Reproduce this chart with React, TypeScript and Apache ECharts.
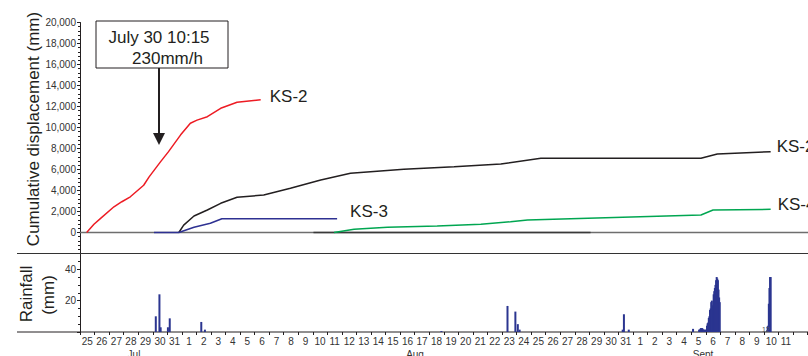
import React, { useEffect, useRef } from "react";
import * as echarts from "echarts";

// ---- axis labels ----
const julDays = ["25", "26", "27", "28", "29", "30", "31"];
const augDays = ["1", "2", "3", "4", "5", "6", "7", "8", "9", "10", "11", "12", "13", "14", "15", "16", "17", "18", "19", "20", "21", "22", "23", "24", "25", "26", "27", "28", "29", "30", "31"];
const sepDays = ["1", "2", "3", "4", "5", "6", "7", "8", "9", "10", "11"];
const trailingDays = ["", "", ""];
const monthNames = ["Jul", "Aug", "Sept"];
const monthLabelTimes = ["07-28 17:00", "08-17 00:30", "09-05 19:30"];

// ---- cumulative displacement (mm) ----
const ks2Red: [string, number][] = [
  ["07-25 11:00", 0], ["07-25 23:00", 780], ["07-26 10:00", 1350], ["07-27 08:00", 2450],
  ["07-27 21:00", 2930], ["07-28 11:00", 3400], ["07-29 09:00", 4500], ["07-29 18:00", 5300],
  ["07-30 13:00", 6750], ["07-31 02:00", 7700], ["07-31 22:00", 9300], ["08-01 14:00", 10400],
  ["08-02 01:00", 10700], ["08-02 18:00", 11030], ["08-03 16:00", 11830], ["08-04 19:00", 12400],
  ["08-06 10:00", 12650],
];
const ks2Black: [string, number][] = [
  ["07-31 19:00", 0], ["08-01 03:00", 700], ["08-01 20:00", 1570], ["08-02 18:00", 2140],
  ["08-03 16:00", 2780], ["08-04 19:00", 3350], ["08-06 15:00", 3570], ["08-08 11:00", 4210],
  ["08-10 13:00", 5000], ["08-12 14:00", 5640], ["08-16 06:00", 6020], ["08-19 17:00", 6270],
  ["08-22 22:00", 6520], ["08-25 16:00", 7070], ["09-05 16:00", 7070], ["09-06 19:00", 7480],
  ["09-10 11:00", 7700],
];
const ks3: [string, number][] = [
  ["07-30 02:00", 0], ["07-31 19:00", 0], ["08-01 20:00", 500], ["08-02 23:00", 880],
  ["08-03 18:00", 1310], ["08-07 12:00", 1320], ["08-11 16:00", 1310],
];
const ks4: [string, number][] = [
  ["08-11 11:00", 0], ["08-12 20:00", 300], ["08-15 03:00", 500], ["08-18 13:00", 620],
  ["08-21 13:00", 780], ["08-23 14:00", 1030], ["08-24 18:00", 1190], ["08-27 17:00", 1310],
  ["09-05 16:00", 1670], ["09-06 12:00", 2140], ["09-10 11:00", 2210],
];
const zeroTrace: [string, number][] = [["08-10 01:00", 0], ["08-29 02:00", 0]];

// ---- hourly rainfall (mm) ----
const rainfall: [string, number][] = [
  ["07-30 05:00", 10], ["07-30 11:00", 24], ["07-30 13:00", 3],
  ["07-31 01:00", 3], ["07-31 04:00", 8.7],
  ["08-02 08:00", 6.4], ["08-02 14:00", 1.5],
  ["08-18 20:00", 0.6],
  ["08-23 09:00", 16.6], ["08-23 22:00", 13], ["08-24 02:00", 5], ["08-24 05:00", 1.5],
  ["08-31 07:00", 1.5], ["08-31 09:00", 11.3], ["08-31 17:00", 1.5],
  ["09-05 03:00", 2], ["09-05 13:00", 1.5],
  ["09-05 15:00", 2], ["09-05 16:00", 2.5], ["09-05 17:00", 2], ["09-05 18:00", 2.5],
  ["09-05 19:00", 2], ["09-05 20:00", 1], ["09-05 21:00", 1.5], ["09-05 22:00", 1],
  ["09-05 23:00", 1.5], ["09-06 00:00", 1], ["09-06 01:00", 1.5], ["09-06 02:00", 4],
  ["09-06 03:00", 5.5], ["09-06 04:00", 6], ["09-06 05:00", 9], ["09-06 06:00", 10],
  ["09-06 07:00", 14], ["09-06 08:00", 15], ["09-06 09:00", 19], ["09-06 10:00", 20],
  ["09-06 11:00", 17], ["09-06 12:00", 16], ["09-06 13:00", 24], ["09-06 14:00", 26],
  ["09-06 15:00", 28], ["09-06 16:00", 30], ["09-06 17:00", 33], ["09-06 18:00", 35],
  ["09-06 19:00", 34], ["09-06 20:00", 33], ["09-06 21:00", 27], ["09-06 22:00", 22],
  ["09-06 23:00", 19],
  ["09-10 05:00", 1], ["09-10 06:00", 3.5], ["09-10 07:00", 4], ["09-10 08:00", 18],
  ["09-10 09:00", 28], ["09-10 10:00", 35], ["09-10 11:00", 35],
];

const annotationTime = "07-30 10:15";
const annotationLines = ["July 30 10:15", "230mm/h"];

// days since Jul 25 00:00
const toDay = (s: string): number => {
  const [md, hm] = s.split(" ");
  const [m, dd] = md.split("-").map(Number);
  const [h, mi] = (hm || "00:00").split(":").map(Number);
  const base = m === 7 ? dd - 25 : m === 8 ? 7 + dd - 1 : 38 + dd - 1;
  return base + (h + mi / 60) / 24;
};

const FONT = '"Liberation Sans", Arial, Helvetica, sans-serif';
const dayLabels = [...julDays, ...augDays, ...sepDays, ...trailingDays];
const NDAYS = dayLabels.length;
const PX_PER_DAY = 14.553;
const LEFT = 80;
const WIDTH = NDAYS * PX_PER_DAY;

const toXY = (arr: [string, number][]) => arr.map(([t, v]) => [toDay(t), v]);

export default function App() {
  const ref = useRef<HTMLDivElement>(null);
  useEffect(() => {
    if (!ref.current) return;
    const chart = echarts.init(ref.current, undefined, { renderer: "svg" });
    const lineSeries = (name: string, data: [string, number][], color: string, width = 1.5) => ({
      name,
      type: "line",
      xAxisIndex: 0,
      yAxisIndex: 0,
      data: toXY(data),
      showSymbol: false,
      symbol: "none",
      lineStyle: { color, width },
      z: 3,
    });
    chart.setOption({
      animation: false,
      textStyle: { fontFamily: FONT },
      grid: [
        { left: LEFT, top: 22.5, width: WIDTH, height: 231, containLabel: false, outerBoundsMode: "none" },
        { left: LEFT, top: 253.5, width: WIDTH, height: 78.5, containLabel: false, outerBoundsMode: "none" },
      ],
      xAxis: [
        {
          type: "value", gridIndex: 0, min: 0, max: NDAYS,
          axisLine: { show: true, onZero: true, lineStyle: { color: "#6e6e6e", width: 1.3 } },
          axisTick: { show: false }, axisLabel: { show: false }, splitLine: { show: false },
        },
        { type: "value", gridIndex: 1, min: 0, max: NDAYS, show: false },
        {
          type: "category", gridIndex: 1, data: dayLabels, boundaryGap: true, position: "bottom",
          axisLine: { show: false },
          axisTick: { show: true, length: 3, lineStyle: { color: "#231f20" }, interval: 0 },
          axisLabel: { interval: 0, fontSize: 10, color: "#333", margin: 4, fontFamily: FONT },
          splitLine: { show: false },
        },
      ],
      yAxis: [
        {
          type: "value", gridIndex: 0, min: -2000, max: 20000, interval: 2000,
          axisLine: { show: true, lineStyle: { color: "#231f20", width: 1 } },
          axisTick: { show: true, length: 3, lineStyle: { color: "#231f20" } },
          minorTick: { show: true, splitNumber: 5, length: 2, lineStyle: { color: "#231f20" } },
          axisLabel: {
            fontSize: 10, color: "#333", margin: 4, fontFamily: FONT,
            formatter: (v: number) => (v < 0 ? "" : v.toLocaleString("en-US")),
          },
          splitLine: { show: false },
        },
        {
          type: "value", gridIndex: 1, min: 0, max: 50, interval: 20,
          axisLine: { show: true, lineStyle: { color: "#231f20", width: 1 } },
          axisTick: { show: true, length: 3, lineStyle: { color: "#231f20" } },
          minorTick: { show: true, splitNumber: 4, length: 2, lineStyle: { color: "#231f20" } },
          axisLabel: {
            fontSize: 10, color: "#333", margin: 4, fontFamily: FONT,
            formatter: (v: number) => (v === 20 || v === 40 ? String(v) : ""),
          },
          splitLine: { show: false },
        },
      ],
      series: [
        lineSeries("zero", zeroTrace, "#3a3a3a", 1.6),
        lineSeries("KS-2 (red)", ks2Red, "#ed1c24"),
        lineSeries("KS-2", ks2Black, "#231f20"),
        lineSeries("KS-3", ks3, "#2e3192"),
        lineSeries("KS-4", ks4, "#00a651"),
        {
          name: "Rainfall", type: "bar", xAxisIndex: 1, yAxisIndex: 1,
          data: toXY(rainfall), barWidth: 2, itemStyle: { color: "#2b3590" }, z: 3,
        },
      ],
    });

    const px = (grid: number, d: number, v: number) =>
      chart.convertToPixel({ gridIndex: grid }, [d, v]) as number[];
    const last = (arr: [string, number][]) => arr[arr.length - 1];
    const endLabel = (arr: [string, number][], dx: number, dy: number, text: string) => {
      const [t, v] = last(arr);
      const p = px(0, toDay(t), v);
      return {
        type: "text", x: p[0] + dx, y: p[1] + dy, z: 10,
        style: { text, fill: "#231f20", fontSize: 17, fontFamily: FONT, align: "left", verticalAlign: "middle", textAlign: "left", textVerticalAlign: "middle" },
      };
    };
    const arrowX = px(0, toDay(annotationTime), 0)[0];
    const rainBase = px(1, 0, 0)[1];
    const monthTexts = monthNames.map((m, i) => {
      const x = px(1, toDay(monthLabelTimes[i]), 0)[0];
      return {
        type: "text", x, y: rainBase + 22, z: 10,
        style: { text: m, fill: "#333", fontSize: 10, fontFamily: FONT, align: "center", verticalAlign: "middle", textAlign: "center", textVerticalAlign: "middle" },
      };
    });
    const tinyX = px(1, toDay("09-10 03:00"), 0)[0];

    chart.setOption({
      graphic: [
        { type: "line", shape: { x1: 17, y1: 253.5, x2: 808, y2: 253.5 }, style: { stroke: "#333", lineWidth: 1.2 }, z: 1 },
        { type: "line", shape: { x1: 17, y1: 332, x2: 808, y2: 332 }, style: { stroke: "#231f20", lineWidth: 1 }, z: 1 },
        {
          type: "text", x: 33, y: 129, rotation: Math.PI / 2, z: 10,
          style: { text: "Cumulative displacement (mm)", fill: "#231f20", fontSize: 17, fontFamily: FONT, align: "center", verticalAlign: "middle", textAlign: "center", textVerticalAlign: "middle" },
        },
        {
          type: "text", x: 26, y: 294, rotation: Math.PI / 2, z: 10,
          style: { text: "Rainfall", fill: "#231f20", fontSize: 17, fontFamily: FONT, align: "center", verticalAlign: "middle", textAlign: "center", textVerticalAlign: "middle" },
        },
        {
          type: "text", x: 48, y: 295, rotation: Math.PI / 2, z: 10,
          style: { text: "(mm)", fill: "#231f20", fontSize: 17, fontFamily: FONT, align: "center", verticalAlign: "middle", textAlign: "center", textVerticalAlign: "middle" },
        },
        { type: "rect", shape: { x: 96, y: 21, width: 132, height: 47 }, style: { fill: "#fff", stroke: "#231f20", lineWidth: 1 }, z: 10 },
        {
          type: "text", x: 159, y: 37, z: 11,
          style: { text: annotationLines[0], fill: "#231f20", fontSize: 17, fontFamily: FONT, align: "center", verticalAlign: "middle", textAlign: "center", textVerticalAlign: "middle" },
        },
        {
          type: "text", x: 167.5, y: 58.5, z: 11,
          style: { text: annotationLines[1], fill: "#231f20", fontSize: 17, fontFamily: FONT, align: "center", verticalAlign: "middle", textAlign: "center", textVerticalAlign: "middle" },
        },
        { type: "line", shape: { x1: arrowX, y1: 68, x2: arrowX, y2: 134 }, style: { stroke: "#231f20", lineWidth: 2 }, z: 10 },
        { type: "polygon", shape: { points: [[arrowX - 6, 133], [arrowX + 6, 133], [arrowX, 145]] }, style: { fill: "#231f20" }, z: 10 },
        endLabel(ks2Red, 9, -3, "KS-2"),
        endLabel(ks2Black, 6, -5, "KS-2"),
        endLabel(ks3, 13, -7, "KS-3"),
        endLabel(ks4, 7, -5, "KS-4"),
        ...monthTexts,
        {
          type: "text", x: tinyX, y: rainBase - 3, z: 10,
          style: { text: "12", fill: "#555", fontSize: 7, fontFamily: FONT, align: "center", verticalAlign: "middle", textAlign: "center", textVerticalAlign: "middle" },
        },
      ],
    });
    return () => chart.dispose();
  }, []);
  return (
    <div
      ref={ref}
      style={{ position: "absolute", left: 0, top: 0, width: 808, height: 356, overflow: "hidden", background: "#fff" }}
    />
  );
}
